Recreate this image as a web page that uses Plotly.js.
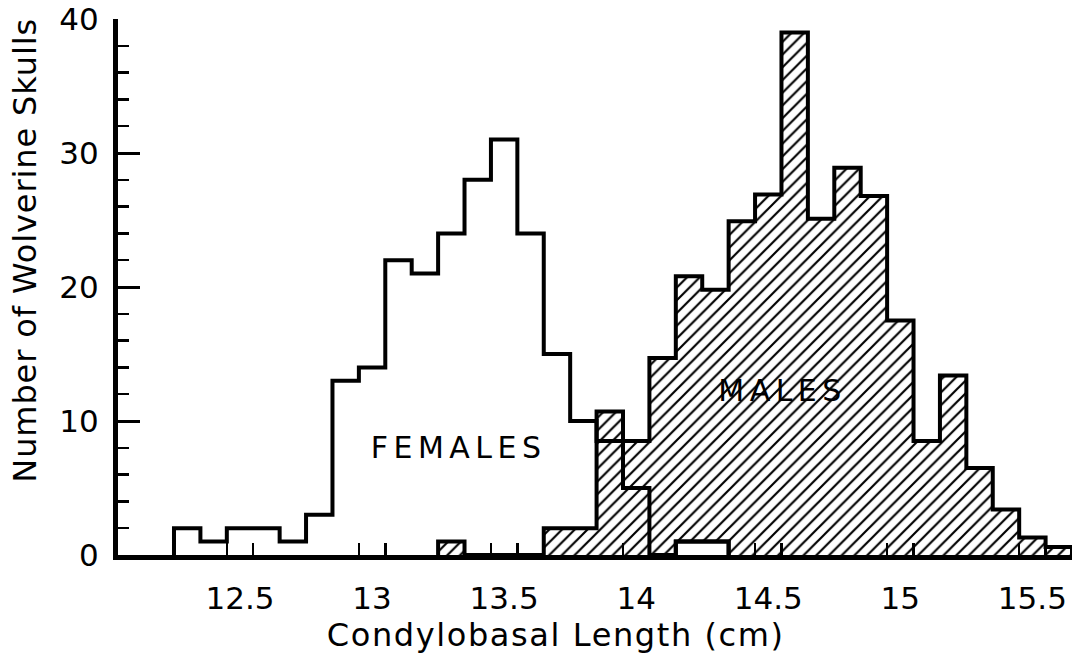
<!DOCTYPE html>
<html>
<head>
<meta charset="utf-8">
<script src="https://cdn.plot.ly/plotly-3.0.1.min.js"></script>
<style>
  html, body { margin: 0; padding: 0; background: #fff; }
  #chart { width: 1073px; height: 657px; }
  g.annotation[data-index="0"] text { letter-spacing: 1.6px; }
  g.annotation[data-index="1"] text { letter-spacing: 0.9px; }
  g.annotation[data-index="2"] text { letter-spacing: 5.5px; }
  g.annotation[data-index="3"] text { letter-spacing: 5.5px; }
</style>
</head>
<body>
<div id="chart"></div>
<script>
// ---- data (bin centres in cm, counts) ----
const binWidth = 0.1;
const femaleBins = [12.3, 12.4, 12.5, 12.6, 12.7, 12.8, 12.9, 13.0, 13.1, 13.2, 13.3,
                    13.4, 13.5, 13.6, 13.7, 13.8, 13.9, 14.0, 14.1, 14.2, 14.3];
const femaleCounts = [2, 1, 2, 2, 1, 3, 13, 14, 22, 21, 24,
                      28, 31, 24, 15, 10, 8.5, 5, 0, 1, 1];
const maleBins = [13.3, 13.4, 13.5, 13.6, 13.7, 13.8, 13.9, 14.0, 14.1, 14.2, 14.3, 14.4,
                  14.5, 14.6, 14.7, 14.8, 14.9, 15.0, 15.1, 15.2, 15.3, 15.4, 15.5, 15.6];
const maleCounts = [1, 0, 0, 0, 2, 2, 10.7, 8.5, 14.7, 20.8, 19.8, 24.9,
                    26.9, 39, 25.1, 28.9, 26.8, 17.5, 8.5, 13.4, 6.5, 3.4, 1.3, 0.6];
const xTickLabels = ['12.5', '13', '13.5', '14', '14.5', '15', '15.5'];
const xTickValues = [12.5, 13, 13.5, 14, 14.5, 15, 15.5];
const seriesLabels = ['FEMALES', 'MALES'];
const xTitle = 'Condylobasal Length (cm)';
const yTitle = 'Number of Wolverine Skulls';

// build a histogram step outline from bin centres
function stepPath(centres, counts) {
  const xs = [], ys = [];
  const e0 = centres[0] - binWidth / 2;
  xs.push(e0); ys.push(0);
  for (let i = 0; i < centres.length; i++) {
    xs.push(centres[i] - binWidth / 2); ys.push(counts[i]);
  }
  xs.push(centres[centres.length - 1] + binWidth / 2); ys.push(0);
  return {x: xs, y: ys};
}

function maleAt(c) {
  const i = maleBins.findIndex(b => Math.abs(b - c) < 1e-6);
  return i < 0 ? 0 : maleCounts[i];
}

// female runs lying wholly inside the male histogram are shown as white boxes
const runs = [];
let cur = null;
femaleBins.forEach((c, i) => {
  if (femaleCounts[i] > 0) {
    if (!cur) { cur = {c: [], v: []}; runs.push(cur); }
    cur.c.push(c); cur.v.push(femaleCounts[i]);
  } else cur = null;
});
const insideRuns = runs.filter(r => r.c.every((c, k) => r.v[k] < maleAt(c)));

const male = stepPath(maleBins, maleCounts);
const female = stepPath(femaleBins, femaleCounts);

const traces = [];
traces.push({
  type: 'scatter', mode: 'lines', x: male.x, y: male.y,
  line: {shape: 'hv', color: '#000', width: 4},
  fill: 'tozeroy', fillcolor: '#fff',
  fillpattern: {shape: '/', fgcolor: '#000', bgcolor: '#fff', size: 9, solidity: 0.24},
  hoverinfo: 'skip'
});
insideRuns.forEach(r => {
  const p = stepPath(r.c, r.v);
  traces.push({
    type: 'scatter', mode: 'lines', x: p.x, y: p.y,
    line: {shape: 'hv', color: '#000', width: 4},
    fill: 'toself', fillcolor: '#fff', hoverinfo: 'skip'
  });
});
traces.push({
  type: 'scatter', mode: 'lines', x: female.x, y: female.y,
  line: {shape: 'hv', color: '#000', width: 4},
  hoverinfo: 'skip'
});

const minorX = [];
xTickValues.forEach(v => { minorX.push(v - binWidth / 2, v + binWidth / 2); });

const font = 'DejaVu Sans, Arial, sans-serif';

const layout = {
  width: 1073, height: 657,
  margin: {l: 118, r: 1, t: 19, b: 102},
  paper_bgcolor: '#fff', plot_bgcolor: '#fff',
  showlegend: false,
  font: {family: font, color: '#000'},
  xaxis: {
    range: [12.038, 15.65],
    tickmode: 'array', tickvals: xTickValues, ticktext: xTickLabels,
    ticks: 'inside', ticklen: 1, tickcolor: 'rgba(0,0,0,0)',
    minor: {tickmode: 'array', tickvals: minorX, ticks: 'inside', ticklen: 12,
            tickwidth: 2.5, tickcolor: '#000', showgrid: false},
    showline: true, linecolor: '#000', linewidth: 5,
    showgrid: false, zeroline: false,
    tickfont: {family: font, size: 31, color: '#000'},
    ticklabelstandoff: 12
  },
  yaxis: {
    range: [0, 40],
    tick0: 0, dtick: 10,
    ticks: 'inside', ticklen: 22, tickwidth: 3, tickcolor: '#000',
    minor: {dtick: 2, ticks: 'inside', ticklen: 11, tickwidth: 2.5, tickcolor: '#000', showgrid: false},
    showline: true, linecolor: '#000', linewidth: 5,
    showgrid: false, zeroline: false,
    tickfont: {family: font, size: 31, color: '#000'},
    ticklabelstandoff: 8
  },
  annotations: [
    {text: xTitle, xref: 'paper', yref: 'paper', x: 0.459, y: -0.149,
     xanchor: 'center', yanchor: 'middle', showarrow: false,
     font: {family: font, size: 32, color: '#000'}},
    {text: yTitle, xref: 'paper', yref: 'paper', x: -0.0975, y: 0.569,
     xanchor: 'center', yanchor: 'middle', showarrow: false, textangle: -90,
     font: {family: font, size: 32, color: '#000'}},
    {text: seriesLabels[0], xref: 'x', yref: 'y', x: 13.326, y: 8.0,
     xanchor: 'center', yanchor: 'middle', showarrow: false,
     font: {family: font, size: 30, color: '#000'}},
    {text: seriesLabels[1], xref: 'x', yref: 'y', x: 14.555, y: 12.3,
     xanchor: 'center', yanchor: 'middle', showarrow: false,
     font: {family: font, size: 30, color: '#000'}}
  ]
};

Plotly.newPlot('chart', traces, layout, {displayModeBar: false, staticPlot: true});
</script>
</body>
</html>
